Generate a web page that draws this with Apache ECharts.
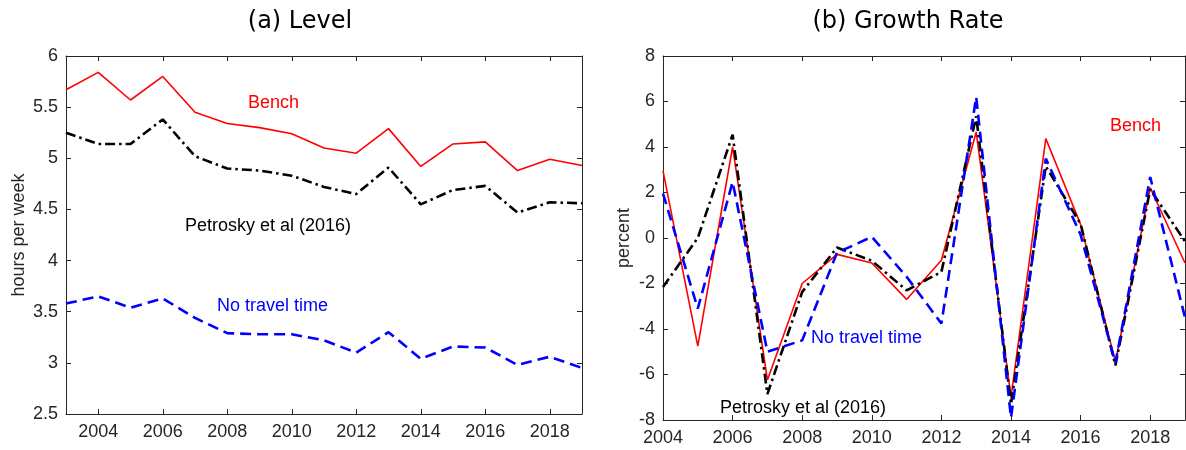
<!DOCTYPE html>
<html>
<head>
<meta charset="utf-8">
<script src="https://cdn.jsdelivr.net/npm/echarts@6/dist/echarts.min.js"></script>
<style>
  html, body { margin: 0; padding: 0; background: #fff; }
  #chart { width: 1186px; height: 450px; }
</style>
</head>
<body>
<div id="chart"></div>
<script>
// (a) Level: years 2003-2019
const levelYears = [2003, 2004, 2005, 2006, 2007, 2008, 2009, 2010, 2011, 2012, 2013, 2014, 2015, 2016, 2017, 2018, 2019];
const levelBench = [5.67, 5.84, 5.57, 5.80, 5.45, 5.34, 5.30, 5.24, 5.10, 5.05, 5.29, 4.92, 5.14, 5.16, 4.88, 4.99, 4.93];
const levelPetrosky = [5.25, 5.14, 5.14, 5.38, 5.02, 4.90, 4.88, 4.83, 4.72, 4.65, 4.91, 4.55, 4.69, 4.73, 4.47, 4.57, 4.56];
const levelNoTravel = [3.58, 3.65, 3.54, 3.63, 3.44, 3.29, 3.28, 3.28, 3.22, 3.10, 3.30, 3.04, 3.16, 3.15, 2.98, 3.06, 2.95];

// (b) Growth rate: years 2004-2019
const growthYears = [2004, 2005, 2006, 2007, 2008, 2009, 2010, 2011, 2012, 2013, 2014, 2015, 2016, 2017, 2018, 2019];
const growthBench = [2.95, -4.75, 4.0, -6.24, -2.0, -0.72, -1.1, -2.7, -0.98, 4.66, -7.0, 4.37, 0.6, -5.45, 2.21, -1.1];
const growthPetrosky = [-2.15, 0.0, 4.54, -6.86, -2.37, -0.42, -1.0, -2.3, -1.49, 5.35, -7.3, 3.15, 0.62, -5.6, 2.14, -0.15];
const growthNoTravel = [1.95, -3.1, 2.46, -5.0, -4.5, -0.65, 0.05, -1.7, -3.76, 6.2, -7.9, 3.49, 0.15, -5.5, 2.68, -3.5];

// tick labels
const levelTicks = [2004, 2006, 2008, 2010, 2012, 2014, 2016, 2018];
const growthTicks = [2004, 2006, 2008, 2010, 2012, 2014, 2016, 2018];

const pairs = (xs, ys) => xs.map((x, i) => [x, ys[i]]);

const axisColor = '#262626';
const labelFont = 'Liberation Sans';

function xAxisPair(gridIndex, min, max, ticks) {
  return [
    {
      type: 'value', gridIndex, min, max, position: 'bottom',
      splitLine: { show: false },
      axisLine: { onZero: false, lineStyle: { color: axisColor } },
      axisTick: { inside: true, length: 5, customValues: ticks, lineStyle: { color: axisColor } },
      axisLabel: {
        customValues: ticks, color: axisColor, fontSize: 18, fontFamily: labelFont, margin: 9,
        formatter: v => String(v)
      }
    },
    {
      type: 'value', gridIndex, min, max, position: 'top',
      splitLine: { show: false },
      axisLine: { onZero: false, lineStyle: { color: axisColor } },
      axisTick: { inside: true, length: 5, customValues: ticks, lineStyle: { color: axisColor } },
      axisLabel: { show: false }
    }
  ];
}

function yAxisPair(gridIndex, min, max, interval, name, nameGap) {
  return [
    {
      type: 'value', gridIndex, min, max, interval, position: 'left',
      name, nameLocation: 'middle', nameGap, nameRotate: 90,
      nameTextStyle: { color: axisColor, fontSize: 18, fontFamily: labelFont },
      splitLine: { show: false },
      axisLine: { show: true, onZero: false, lineStyle: { color: axisColor } },
      axisTick: { inside: true, length: 5, lineStyle: { color: axisColor } },
      axisLabel: { color: axisColor, fontSize: 18, fontFamily: labelFont, margin: 8 }
    },
    {
      type: 'value', gridIndex, min, max, interval, position: 'right',
      splitLine: { show: false },
      axisLine: { show: true, onZero: false, lineStyle: { color: axisColor } },
      axisTick: { inside: true, length: 5, lineStyle: { color: axisColor } },
      axisLabel: { show: false }
    }
  ];
}

const benchStyle = { color: '#ff0000', width: 1.6, type: 'solid' };
const petroskyStyle = { color: '#000000', width: 2.6, type: [10, 4, 2.5, 4] };
const noTravelStyle = { color: '#0000ff', width: 2.6, type: [11, 6] };

function line(name, data, xAxisIndex, yAxisIndex, style) {
  return {
    name, type: 'line', data, xAxisIndex, yAxisIndex,
    showSymbol: false, symbol: 'none', lineStyle: style, z: 3
  };
}

const chart = echarts.init(document.getElementById('chart'));

const annFont = '18px Liberation Sans';

const option = {
  animation: false,
  textStyle: { fontFamily: labelFont },
  title: [
    { text: '(a) Level', left: 295, top: 5, textAlign: 'center',
      textStyle: { fontSize: 24, fontWeight: 'normal', color: '#000', fontFamily: 'DejaVu Sans' } },
    { text: '(b) Growth Rate', left: 903, top: 5, textAlign: 'center',
      textStyle: { fontSize: 24, fontWeight: 'normal', color: '#000', fontFamily: 'DejaVu Sans' } }
  ],
  grid: [
    { left: 66, top: 56, width: 516, height: 358 },
    { left: 663, top: 56, width: 522, height: 364 }
  ],
  xAxis: [
    ...xAxisPair(0, 2003, 2019, levelTicks),
    ...xAxisPair(1, 2004, 2019, growthTicks)
  ],
  yAxis: [
    ...yAxisPair(0, 2.5, 6, 0.5, 'hours per week', 38),
    ...yAxisPair(1, -8, 8, 2, 'percent', 30)
  ],
  series: [
    line('Bench', pairs(levelYears, levelBench), 0, 0, benchStyle),
    line('Petrosky et al (2016)', pairs(levelYears, levelPetrosky), 0, 0, petroskyStyle),
    line('No travel time', pairs(levelYears, levelNoTravel), 0, 0, noTravelStyle),
    line('Bench', pairs(growthYears, growthBench), 2, 2, benchStyle),
    line('Petrosky et al (2016)', pairs(growthYears, growthPetrosky), 2, 2, petroskyStyle),
    line('No travel time', pairs(growthYears, growthNoTravel), 2, 2, noTravelStyle)
  ],
  graphic: [
    { type: 'text', left: 248, top: 94, style: { text: 'Bench', fill: '#ff0000', font: annFont } },
    { type: 'text', left: 185, top: 217, style: { text: 'Petrosky et al (2016)', fill: '#000000', font: annFont } },
    { type: 'text', left: 217, top: 297, style: { text: 'No travel time', fill: '#0000ff', font: annFont } },
    { type: 'text', left: 1110, top: 117, style: { text: 'Bench', fill: '#ff0000', font: annFont } },
    { type: 'text', left: 811, top: 329, style: { text: 'No travel time', fill: '#0000ff', font: annFont } },
    { type: 'text', left: 720, top: 399, style: { text: 'Petrosky et al (2016)', fill: '#000000', font: annFont } }
  ]
};

chart.setOption(option);
</script>
</body>
</html>
